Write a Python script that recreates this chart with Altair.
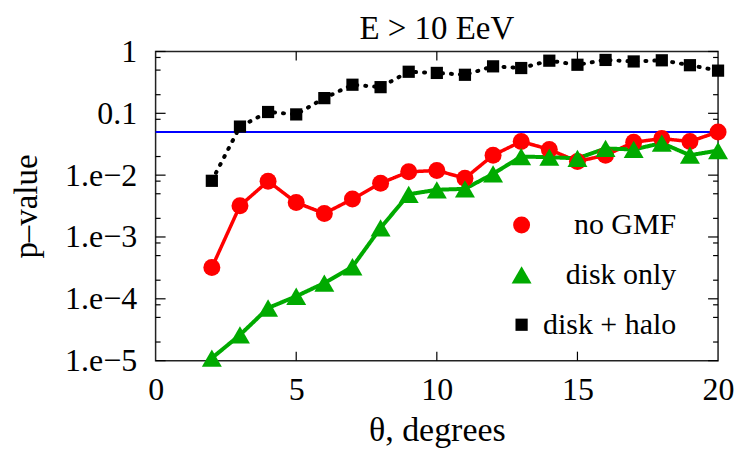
import altair as alt
import pandas as pd

theta = list(range(2, 21))
no_gmf = [3.2e-4, 0.0032, 0.0080, 0.0036, 0.0024, 0.0041, 0.0074, 0.0113, 0.0119, 0.0089,
          0.021, 0.035, 0.026, 0.0166, 0.021, 0.034, 0.039, 0.035, 0.050]
disk_only = [1.1e-5, 2.6e-5, 7.1e-5, 1.1e-4, 1.8e-4, 3.3e-4, 1.4e-3, 4.9e-3, 5.8e-3, 6.0e-3,
             0.0105, 0.020, 0.0195, 0.0187, 0.027, 0.026, 0.033, 0.021, 0.025]
disk_halo = [0.0081, 0.061, 0.105, 0.096, 0.176, 0.29, 0.265, 0.47, 0.45, 0.42,
             0.575, 0.54, 0.71, 0.61, 0.73, 0.69, 0.72, 0.60, 0.49]

series_names = ["no GMF", "disk only", "disk + halo"]
series_colors = ["#ff0000", "#00aa00", "#000000"]
series_shapes = ["circle", "triangle-up", "square"]
series_sizes = [290, 400, 150]
series_dash = [[1, 0], [1, 0], [1, 8]]
series_width = [3.5, 4, 4]

threshold = [0.05]
x_label_values = [0, 5, 10, 15, 20]
x_inner_ticks = [5, 10, 15]
y_major = [1e-5, 1e-4, 1e-3, 1e-2, 0.1, 1]
y_minor = [m * 10.0 ** k for k in range(-5, 0) for m in (2, 5, 8)]

rows = []
for name, vals in zip(series_names, [no_gmf, disk_only, disk_halo]):
    for t, v in zip(theta, vals):
        rows.append({"theta": t, "p": v, "series": name})
df = pd.DataFrame(rows)

W, H = 564, 310
FONT = "Liberation Serif, Times New Roman, Times, serif"

x_scale = alt.Scale(domain=[0, 20], nice=False, zero=False)
y_scale = alt.Scale(type="log", domain=[1e-5, 1], nice=False)

x_axis = alt.Axis(values=x_label_values, ticks=False, domain=False, grid=False,
                  labelFontSize=32, labelFont=FONT, labelPadding=14, labelFlush=False,
                  labelOverlap=False, labelColor="black",
                  title="θ, degrees", titleFontSize=34, titleFont=FONT,
                  titleFontWeight="normal", titleColor="black", titlePadding=8)
y_axis = alt.Axis(values=y_major, ticks=False, domain=False, grid=False,
                  labelFontSize=32, labelFont=FONT, labelPadding=19, labelOverlap=False,
                  labelColor="black",
                  labelExpr="datum.value >= 1 ? '1' : (datum.value >= 0.1 ? '0.1' : '1.e−' + round(-log(datum.value)/LN10))",
                  title="p–value", titleFontSize=33, titleFont=FONT,
                  titleFontWeight="normal", titleColor="black",
                  titleX=-129, titleBaseline="middle")

dom = series_names


def X(field):
    return alt.X(field, scale=x_scale, axis=x_axis)


def Y(field):
    return alt.Y(field, scale=y_scale, axis=y_axis)


line_layers = []
for name, col, dash, sw in zip(series_names, series_colors, series_dash, series_width):
    line_layers.append(
        alt.Chart(df).transform_filter(alt.datum.series == name)
        .mark_line(color=col, strokeWidth=sw, strokeDash=dash, strokeCap="round", strokeJoin="round")
        .encode(x=X("theta:Q"), y=Y("p:Q"))
    )

points = alt.Chart(df).mark_point(filled=True, opacity=1).encode(
    x=X("theta:Q"),
    y=Y("p:Q"),
    color=alt.Color("series:N", scale=alt.Scale(domain=dom, range=series_colors), title=None),
    shape=alt.Shape("series:N", scale=alt.Scale(domain=dom, range=series_shapes), title=None),
    size=alt.Size("series:N", scale=alt.Scale(type="ordinal", domain=dom, range=series_sizes), title=None),
)

thr = alt.Chart(pd.DataFrame({"p": threshold})).mark_rule(color="#0000ff", strokeWidth=2).encode(
    y=Y("p:Q")
)

ymaj = pd.DataFrame({"v": y_major})
ymin = pd.DataFrame({"v": y_minor})
xt = pd.DataFrame({"v": x_inner_ticks})


def yticks(data, length):
    left = alt.Chart(data).mark_rule(color="black", strokeWidth=1.2).encode(
        y=Y("v:Q"), x=alt.value(0), x2=alt.value(length))
    right = alt.Chart(data).mark_rule(color="black", strokeWidth=1.2).encode(
        y=Y("v:Q"), x=alt.value(W - length), x2=alt.value(W))
    return [left, right]


xb = alt.Chart(xt).mark_rule(color="black", strokeWidth=1.2).encode(
    x=X("v:Q"), y=alt.value(H - 9), y2=alt.value(H))
xtop = alt.Chart(xt).mark_rule(color="black", strokeWidth=1.2).encode(
    x=X("v:Q"), y=alt.value(0), y2=alt.value(9))

chart = alt.layer(
    *yticks(ymaj, 10), *yticks(ymin, 5), xb, xtop, thr, *line_layers, points
).properties(
    width=W, height=H,
    title=alt.Title("E > 10 EeV", font=FONT, fontSize=33, fontWeight="normal",
                    color="black", anchor="middle", frame="group", offset=-10),
    padding={"left": 3, "top": 4, "right": 5, "bottom": 0},
).configure_view(
    stroke="#222222", strokeWidth=1.5
).configure_legend(
    orient="none", legendX=352, legendY=159, labelFont=FONT, labelFontSize=30,
    labelColor="black", rowPadding=20, symbolStrokeWidth=0, labelOffset=140,
    labelAlign="right", padding=0, symbolOpacity=1
)

chart.save("out.html", embed_options={"renderer": "svg", "actions": False})
